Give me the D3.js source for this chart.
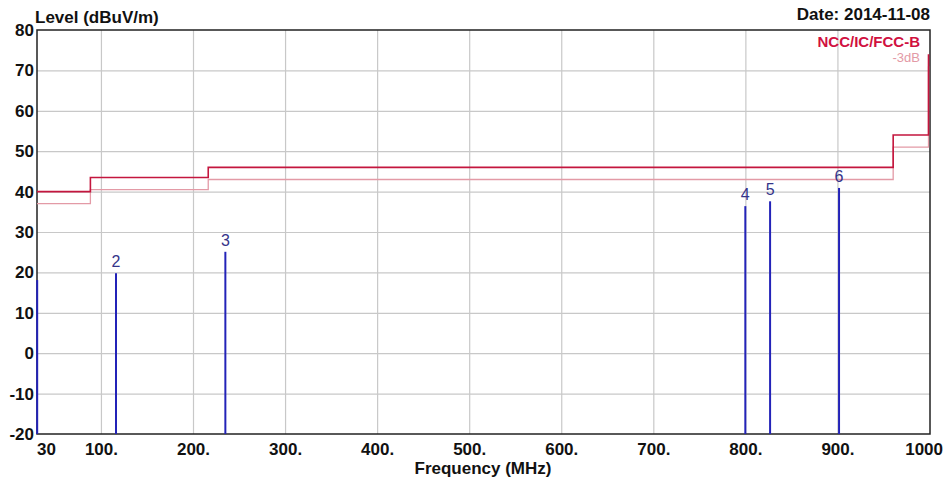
<!DOCTYPE html>
<html lang="en">
<head>
    <meta charset="UTF-8">
    <title>Level vs Frequency</title>
    <script src="https://d3js.org/d3.v7.min.js"></script>
    <style>
        body { margin: 0; background: white; }
        text { font-family: 'Liberation Sans', Arial, sans-serif; }
        .tick-label { font-size: 17px; font-weight: bold; fill: #111; }
        .title { font-size: 17px; font-weight: bold; fill: #111; }
        .marker-label { font-size: 16px; fill: #34348a; text-anchor: middle; }
    </style>
</head>
<body>
<script>
    const width = 947;
    const height = 484;
    const plot = {left: 37, right: 930, top: 30, bottom: 434};

    // axis ticks
    const xTicks = [30, 100, 200, 300, 400, 500, 600, 700, 800, 900, 1000];
    const xTickLabels = ['30', '100.', '200.', '300.', '400.', '500.', '600.', '700.', '800.', '900.', '1000'];
    const yTicks = [80, 70, 60, 50, 40, 30, 20, 10, 0, -10, -20];

    // limit lines (step after each frequency, last value is the rise at 1000 MHz)
    const limitFreq = [30, 88, 216, 960, 1000];
    const limitB = [40, 43.5, 46, 54, 74];
    const limit3dB = [37, 40.5, 43, 51, 71];

    // measured peaks
    const markerLabel = ['', '2', '3', '4', '5', '6'];
    const markerFreq = [30.2, 115.8, 234.6, 799.4, 826.3, 901.2];
    const markerLevel = [18.1, 19.8, 25.1, 36.4, 37.6, 40.9];

    const x = d3.scaleLinear().domain([30, 1000]).range([plot.left, plot.right]);
    const y = d3.scaleLinear().domain([-20, 80]).range([plot.bottom, plot.top]);

    const svg = d3.select("body").append("svg").attr("width", width).attr("height", height);

    // grid
    svg.append("g").selectAll("line")
        .data(yTicks.filter(d => d > -20 && d < 80)).enter()
        .append("line")
        .attr("x1", plot.left).attr("x2", plot.right)
        .attr("y1", d => y(d) + .5).attr("y2", d => y(d) + .5)
        .style("stroke", "#c8c8c8").style("stroke-width", 1.2);

    svg.append("g").selectAll("line")
        .data(xTicks.filter(d => d > 30 && d < 1000)).enter()
        .append("line")
        .attr("x1", d => x(d)).attr("x2", d => x(d))
        .attr("y1", plot.top).attr("y2", plot.bottom)
        .style("stroke", "#c8c8c8").style("stroke-width", 1.2);

    // frame
    svg.append("rect")
        .attr("x", plot.left).attr("y", plot.top)
        .attr("width", plot.right - plot.left).attr("height", plot.bottom - plot.top)
        .style("fill", "none").style("stroke", "#222").style("stroke-width", 1.5);

    // limit lines
    const limitLine = d3.line()
        .x(d => x(d[0]) - (d[0] === 1000 ? 1.5 : 0))
        .y(d => y(d[1]))
        .curve(d3.curveStepAfter);

    svg.append("path")
        .attr("d", limitLine(limitFreq.map((f, i) => [f, limit3dB[i]])))
        .style("fill", "none").style("stroke", "#e39aa6").style("stroke-width", 1.3);

    svg.append("path")
        .attr("d", limitLine(limitFreq.map((f, i) => [f, limitB[i]])))
        .style("fill", "none").style("stroke", "#c4163e").style("stroke-width", 1.6);

    // markers
    const markers = markerFreq.map((f, i) => ({f: f, v: markerLevel[i], label: markerLabel[i]}));

    svg.append("g").selectAll("line")
        .data(markers).enter()
        .append("line")
        .attr("x1", d => x(d.f)).attr("x2", d => x(d.f))
        .attr("y1", plot.bottom).attr("y2", d => y(d.v))
        .style("stroke", "#2323b8").style("stroke-width", 2);

    svg.append("g").selectAll("text")
        .data(markers).enter()
        .append("text")
        .attr("class", "marker-label")
        .attr("x", d => x(d.f))
        .attr("y", d => y(d.v) - 6)
        .text(d => d.label);

    // tick labels
    svg.append("g").selectAll("text")
        .data(yTicks).enter()
        .append("text")
        .attr("class", "tick-label")
        .attr("x", 34)
        .attr("y", d => y(d))
        .attr("dy", "0.35em")
        .attr("text-anchor", "end")
        .text(d => d);

    svg.append("g").selectAll("text")
        .data(xTicks).enter()
        .append("text")
        .attr("class", "tick-label")
        .attr("x", (d, i) => i === 0 ? x(d) : i === xTicks.length - 1 ? x(d) + 13 : x(d))
        .attr("y", 455)
        .attr("text-anchor", (d, i) => i === 0 ? "start" : i === xTicks.length - 1 ? "end" : "middle")
        .text((d, i) => xTickLabels[i]);

    // titles
    svg.append("text").attr("class", "title")
        .attr("x", 35).attr("y", 23)
        .text("Level (dBuV/m)");

    svg.append("text").attr("class", "title")
        .attr("x", 930).attr("y", 20).attr("text-anchor", "end")
        .text("Date: 2014-11-08");

    svg.append("text").attr("class", "title")
        .attr("x", 483).attr("y", 474).attr("text-anchor", "middle")
        .text("Frequency (MHz)");

    // legend
    svg.append("text")
        .attr("x", 920).attr("y", 62).attr("text-anchor", "end")
        .style("font-size", "13px").style("fill", "#e39aa6")
        .text("-3dB");

    svg.append("text")
        .attr("x", 920).attr("y", 47).attr("text-anchor", "end")
        .style("font-size", "15px").style("font-weight", "bold").style("fill", "#d01040")
        .text("NCC/IC/FCC-B");
</script>
</body>
</html>
